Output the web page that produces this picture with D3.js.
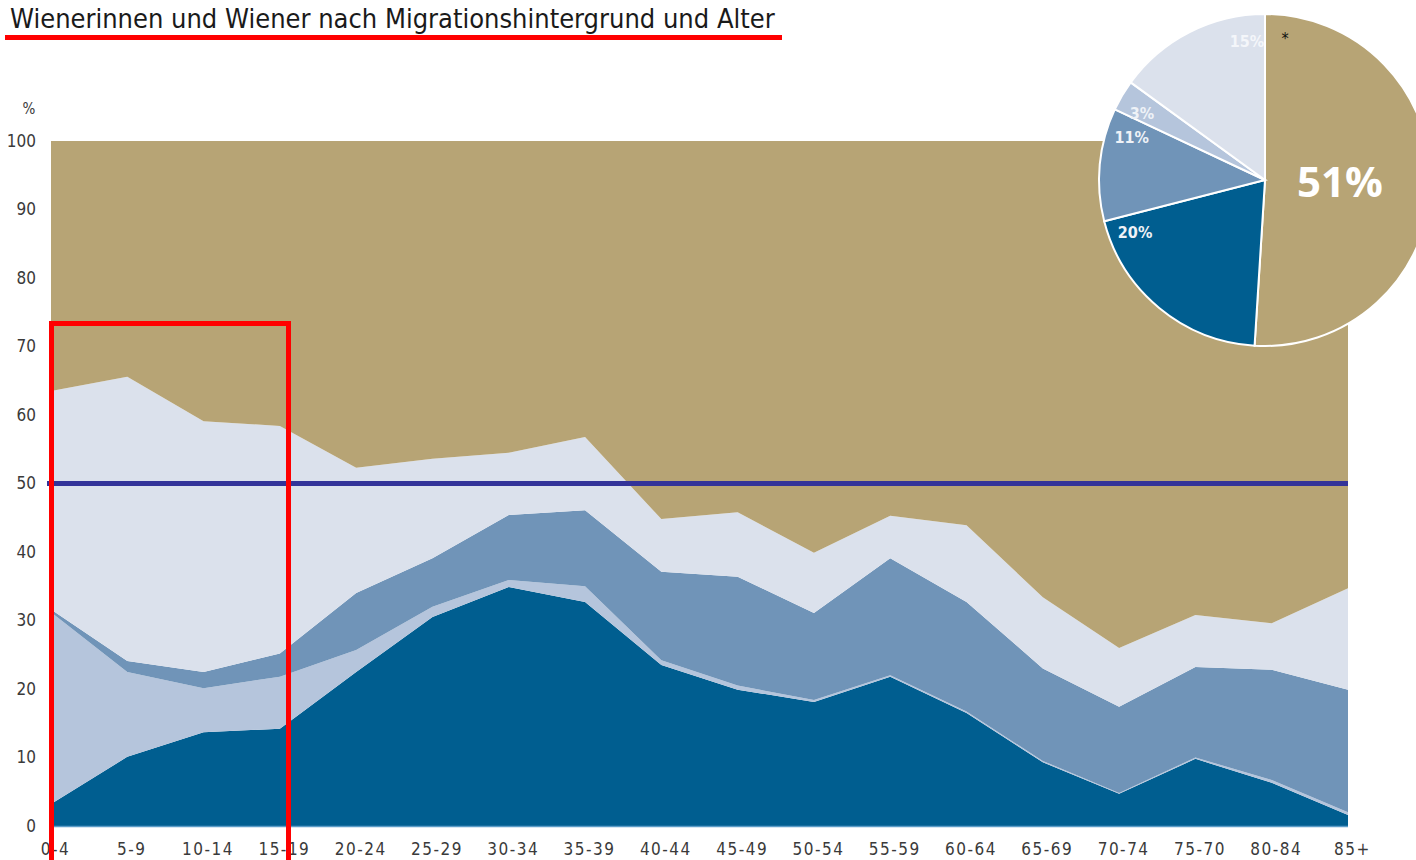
<!DOCTYPE html>
<html>
<head>
<meta charset="utf-8">
<script src="https://cdn.jsdelivr.net/npm/d3@7"></script>
<style>
  body { margin: 0; background: #fff; }
  svg { display: block; }
</style>
</head>
<body>
<div id="chart"></div>
<script>
// Chart size
var chart_width  = 1416;
var chart_height = 860;

// Data
var age_groups = ['0-4', '5-9', '10-14', '15-19', '20-24', '25-29', '30-34', '35-39', '40-44',
                  '45-49', '50-54', '55-59', '60-64', '65-69', '70-74', '75-70', '80-84', '85+'];

var series_keys = ['dunkel', 'hell', 'mittel', 'sehrhell', 'ohne'];

var dunkel   = [3.2, 10.1, 13.7, 14.2, 22.5, 30.5, 34.9, 32.7, 23.5, 19.9, 18.1, 21.8, 16.5, 9.3, 4.7, 9.8, 6.3, 1.6];
var hell     = [28.0, 12.4, 6.4, 7.6, 3.2, 1.5, 1.0, 2.3, 0.7, 0.6, 0.3, 0.2, 0.2, 0.2, 0.1, 0.2, 0.4, 0.4];
var mittel   = [0.4, 1.6, 2.4, 3.4, 8.3, 7.1, 9.5, 11.1, 12.9, 15.9, 12.7, 17.1, 16.0, 13.5, 12.6, 13.2, 16.1, 17.9];
var sehrhell = [31.9, 41.5, 36.6, 33.2, 18.3, 14.5, 9.1, 10.7, 7.7, 9.4, 8.8, 6.2, 11.2, 10.4, 8.6, 7.6, 6.8, 14.8];
var ohne     = [36.5, 34.4, 40.9, 41.6, 47.7, 46.4, 45.5, 43.2, 55.2, 54.2, 60.1, 54.7, 56.1, 66.6, 74.0, 69.2, 70.4, 65.3];

var y_ticks = [0, 10, 20, 30, 40, 50, 60, 70, 80, 90, 100];
var ref_line = 50;

var pie_labels = ['51%', '20%', '11%', '3%', '15%'];
var pie_values = [51, 20, 11, 3, 15];
var pie_keys   = ['ohne', 'dunkel', 'mittel', 'hell', 'sehrhell'];

var colors = {
	dunkel: '#005e90',
	hell: '#b5c5dc',
	mittel: '#7094b8',
	sehrhell: '#dbe1ec',
	ohne: '#b7a475'
};

var table = age_groups.map(function(g, i){
	return {
		group: g,
		dunkel: dunkel[i],
		hell: hell[i],
		mittel: mittel[i],
		sehrhell: sehrhell[i],
		ohne: ohne[i]
	};
});

var font = '"Liberation Sans Narrow", "DejaVu Sans Condensed", sans-serif';

var svg = d3.select('#chart')
	.append('svg')
	.attr('width', chart_width)
	.attr('height', chart_height);

// Scales
var x = d3.scalePoint()
	.domain(age_groups)
	.range([51, 1348]);

var y = d3.scaleLinear()
	.domain([0, 100])
	.range([826, 141]);

// Stacked areas
var stack = d3.stack().keys(series_keys);
var layers = stack(table);

var area = d3.area()
	.x(function(d){ return x(d.data.group); })
	.y0(function(d){ return y(d[0]); })
	.y1(function(d){ return y(d[1]); });

svg.append('g')
	.selectAll('path')
	.data(layers)
	.enter()
	.append('path')
	.attr('d', area)
	.attr('fill', function(d){ return colors[d.key]; });

// thin baseline under the areas
svg.append('line')
	.attr('x1', x(age_groups[0]))
	.attr('x2', x(age_groups[age_groups.length - 1]))
	.attr('y1', y(0) + 0.5)
	.attr('y2', y(0) + 0.5)
	.attr('stroke', '#5b9cc8')
	.attr('stroke-width', 1.5);

// 50% line
svg.append('line')
	.attr('x1', x(age_groups[0]) - 4)
	.attr('x2', x(age_groups[age_groups.length - 1]))
	.attr('y1', y(ref_line))
	.attr('y2', y(ref_line))
	.attr('stroke', '#333399')
	.attr('stroke-width', 5);

// Y axis labels
var y_axis = d3.axisLeft(y)
	.tickValues(y_ticks)
	.tickSize(0)
	.tickPadding(0);

var y_g = svg.append('g')
	.attr('transform', 'translate(36,0)')
	.call(y_axis);
y_g.select('.domain').remove();
y_g.selectAll('text')
	.attr('font-family', font)
	.attr('font-size', 17)
	.attr('fill', '#3a3a3a');

svg.append('text')
	.attr('x', 29)
	.attr('y', 114)
	.attr('text-anchor', 'middle')
	.attr('font-family', font)
	.attr('font-size', 15)
	.attr('fill', '#3a3a3a')
	.text('%');

// X axis labels
var x_axis = d3.axisBottom(x)
	.tickSize(0)
	.tickPadding(0);

var x_g = svg.append('g')
	.attr('transform', 'translate(4,' + 843 + ')')
	.call(x_axis);
x_g.select('.domain').remove();
x_g.selectAll('text')
	.attr('font-family', font)
	.attr('font-size', 17)
	.attr('letter-spacing', 1.5)
	.attr('fill', '#3a3a3a');

// Pie
var pie_cx = 1265;
var pie_cy = 180;
var pie_r  = 166;

var pie = d3.pie().sort(null).value(function(d){ return d; });
var arcs = pie(pie_values);

var arc = d3.arc().innerRadius(0).outerRadius(pie_r);
var big_arc = d3.arc().innerRadius(0).outerRadius(150);

var pie_g = svg.append('g')
	.attr('transform', 'translate(' + pie_cx + ',' + pie_cy + ')');

pie_g.selectAll('path')
	.data(arcs)
	.enter()
	.append('path')
	.attr('d', arc)
	.attr('fill', function(d, i){ return colors[pie_keys[i]]; })
	.attr('stroke', '#ffffff')
	.attr('stroke-width', 2);

// label sits a little before the end of each slice
var label_angle = function(d){ return d.endAngle - (d.endAngle === 2 * Math.PI ? 0.19 : 0.13); };

pie_g.selectAll('text.small')
	.data(arcs.slice(1))
	.enter()
	.append('text')
	.attr('class', 'small')
	.attr('x', function(d){ return Math.sin(label_angle(d)) * 140; })
	.attr('y', function(d){ return -Math.cos(label_angle(d)) * 140; })
	.attr('dy', '0.35em')
	.attr('text-anchor', 'middle')
	.attr('font-family', font)
	.attr('font-weight', 'bold')
	.attr('font-size', 16)
	.attr('fill', function(d, i){ return i === 3 ? '#f4f6fa' : '#eef2f7'; })
	.text(function(d, i){ return pie_labels[i + 1]; });

pie_g.append('text')
	.attr('x', big_arc.centroid(arcs[0])[0])
	.attr('y', big_arc.centroid(arcs[0])[1])
	.attr('dy', '0.35em')
	.attr('text-anchor', 'middle')
	.attr('font-family', '"Open Sans", sans-serif')
	.attr('font-weight', 'bold')
	.attr('font-size', 42)
	.attr('fill', '#ffffff')
	.text(pie_labels[0]);

pie_g.append('text')
	.attr('x', 20)
	.attr('y', -136)
	.attr('text-anchor', 'middle')
	.attr('font-family', font)
	.attr('font-size', 16)
	.attr('fill', '#111')
	.text('*');

// Title
svg.append('text')
	.attr('x', 10)
	.attr('y', 28)
	.attr('font-family', font)
	.attr('font-size', 27)
	.attr('fill', '#1a1a1a')
	.text('Wienerinnen und Wiener nach Migrationshintergrund und Alter');

// Red markings
svg.append('rect')
	.attr('x', 5)
	.attr('y', 35)
	.attr('width', 777)
	.attr('height', 5)
	.attr('fill', '#ff0000');

svg.append('rect')
	.attr('x', 51.5)
	.attr('y', 323.5)
	.attr('width', 237)
	.attr('height', 560)
	.attr('fill', 'none')
	.attr('stroke', '#ff0000')
	.attr('stroke-width', 5);
</script>
</body>
</html>
